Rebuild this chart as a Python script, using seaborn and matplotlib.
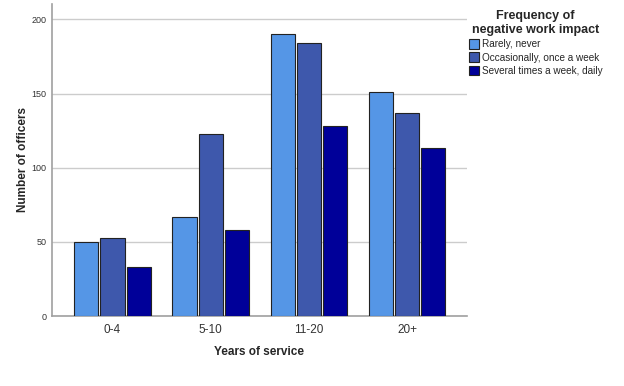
import matplotlib as mpl
mpl.use('Agg')
import matplotlib.pyplot as plt
import pandas as pd
import seaborn as sns

years = ['0-4', '5-10', '11-20', '20+']
freq_levels = ['Rarely, never', 'Occasionally, once a week', 'Several times a week, daily']
rarely = [50, 67, 190, 151]
occasionally = [53, 123, 184, 137]
several = [33, 58, 128, 113]

df = pd.DataFrame({
    'years': years * 3,
    'freq': [freq_levels[0]] * 4 + [freq_levels[1]] * 4 + [freq_levels[2]] * 4,
    'count': rarely + occasionally + several,
})

sns.set_style('white')
plt.rcParams['font.family'] = ['Arial', 'Liberation Sans', 'DejaVu Sans']

pal = ['#5596E6', '#3E58AC', '#000099']

fig = plt.figure(figsize=(6.24, 3.86), dpi=100)
ax = fig.add_axes([0.0833, 0.181, 0.665, 0.809])

sns.barplot(data=df, x='years', y='count', hue='freq', hue_order=freq_levels,
            palette=pal, saturation=1, width=0.8, gap=0.08,
            edgecolor='#222222', linewidth=0.8, ax=ax, zorder=3)

ax.set_xlim(-0.616, 3.61)
ax.set_ylim(0, 210.5)
ax.set_yticks([0, 50, 100, 150, 200])
ax.yaxis.grid(True, color='#cccccc', linewidth=1, zorder=0)
ax.xaxis.grid(False)
for s in ['top', 'right']:
    ax.spines[s].set_visible(False)
for s in ['left', 'bottom']:
    ax.spines[s].set_color('#a0a0a0')
    ax.spines[s].set_linewidth(1.2)
ax.tick_params(axis='y', length=0, labelsize=6.5, labelcolor='#333333', pad=4)
ax.tick_params(axis='x', length=0, labelsize=8.5, labelcolor='#333333', pad=6)

ax.set_xlabel('Years of service', fontsize=8.5, fontweight='bold', labelpad=7)
ax.set_ylabel('Number of officers', fontsize=8.5, fontweight='bold')
ax.yaxis.set_label_coords(-0.056, 0.5)

leg = ax.legend(title='Frequency of\nnegative work impact', loc='upper left',
                bbox_to_anchor=(0.995, 0.992), frameon=False, fontsize=7.2,
                handlelength=1.0, handleheight=1.1, handletextpad=0.3,
                labelspacing=0.3, borderaxespad=0)
leg.get_title().set_fontweight('bold')
leg.get_title().set_fontsize(9)
leg.get_title().set_multialignment('center')
leg._legend_box.align = 'center'

plt.savefig('out.png', dpi=100)
